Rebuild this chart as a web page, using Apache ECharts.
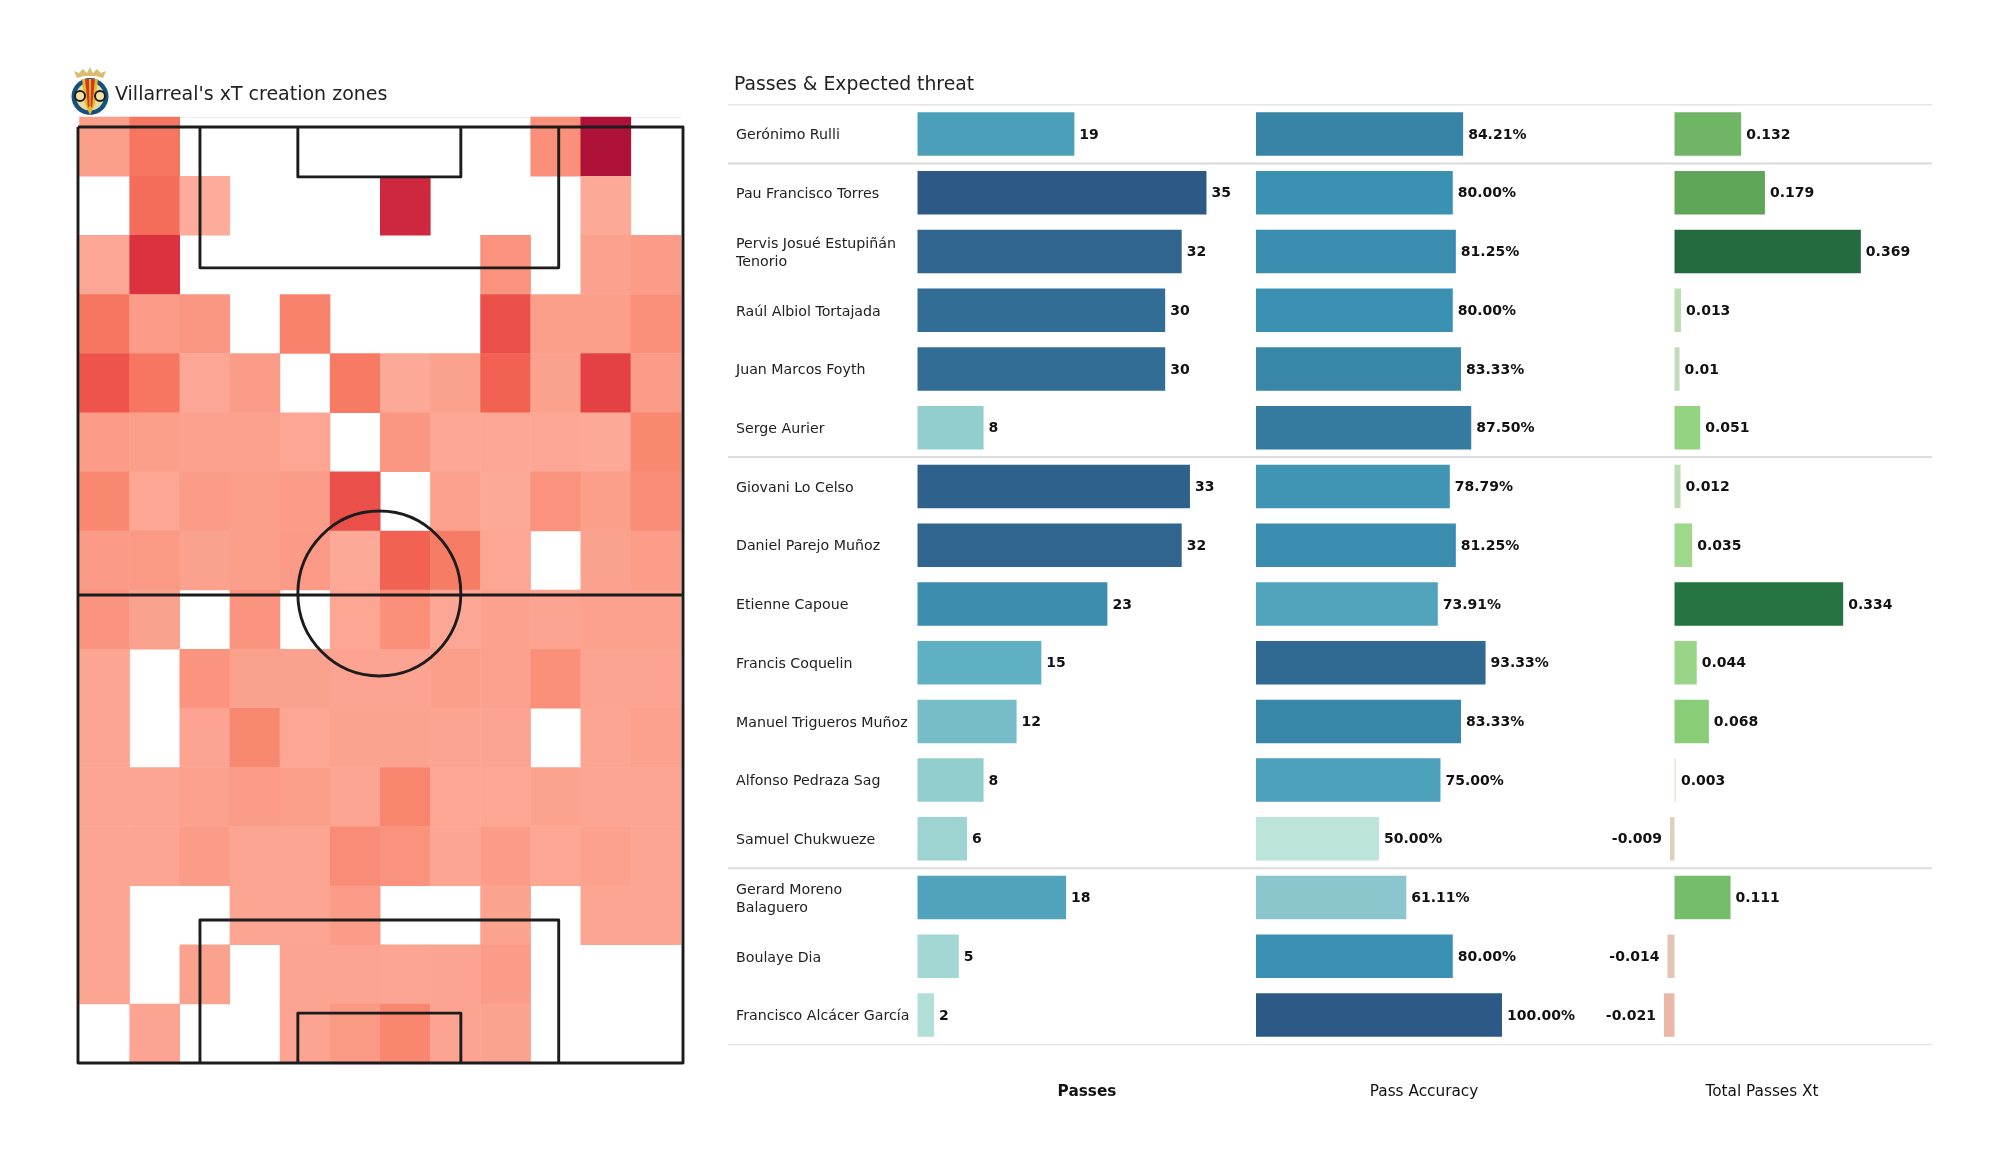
<!DOCTYPE html>
<html><head><meta charset="utf-8">
<style>html,body{margin:0;padding:0;background:#fff}#c{width:2000px;height:1175px}</style>
<script src="https://cdn.jsdelivr.net/npm/echarts@6/dist/echarts.min.js"></script>
</head><body><div id="c"></div>
<script>
const players = ["Gerónimo Rulli","Pau Francisco Torres","Pervis Josué Estupiñán\nTenorio","Raúl Albiol Tortajada","Juan Marcos Foyth","Serge Aurier","Giovani Lo Celso","Daniel Parejo Muñoz","Etienne Capoue","Francis Coquelin","Manuel Trigueros Muñoz","Alfonso Pedraza Sag","Samuel Chukwueze","Gerard Moreno\nBalaguero","Boulaye Dia","Francisco Alcácer García"];
const passes = [19,35,32,30,30,8,33,32,23,15,12,8,6,18,5,2];
const accuracy = [84.21,80,81.25,80,83.33,87.5,78.79,81.25,73.91,93.33,83.33,75,50,61.11,80,100];
const totalXt = [0.132,0.179,0.369,0.013,0.01,0.051,0.012,0.035,0.334,0.044,0.068,0.003,-0.009,0.111,-0.014,-0.021];
const groupBreaks = [0,1,6,13,16];
const _ = null;
const zoneRows = [
 [.20,.45,_,_,_,_,_,_,_,.30,1.0,_],
 [_,.50,.06,_,_,_,.86,_,_,_,.10,_],
 [.12,.80,_,_,_,_,_,_,.28,_,.18,.22],
 [.45,.22,.25,_,.38,_,_,_,.65,.20,.20,.30],
 [.62,.45,.12,.22,_,.43,.10,.17,.55,.17,.72,.22],
 [.22,.20,.18,.18,.13,_,.25,.12,.12,.12,.10,.35],
 [.35,.13,.22,.20,.22,.65,_,.18,.10,.28,.20,.32],
 [.23,.24,.17,.20,.23,.10,.55,.42,.13,_,.17,.21],
 [.27,.17,_,.27,_,.13,.30,.12,.18,.15,.18,.18],
 [.14,_,.27,.17,.17,.15,.15,.20,.18,.30,.15,.15],
 [.14,_,.15,.35,.13,.16,.16,.15,.15,_,.14,.18],
 [.14,.14,.18,.22,.20,.14,.37,.13,.13,.16,.14,.14],
 [.14,.14,.22,.14,.14,.32,.28,.14,.22,.13,.18,.14],
 [.14,_,_,.14,.14,.22,_,_,.16,_,.14,.14],
 [.14,_,.17,_,.15,.15,.14,.15,.22,_,_,_],
 [_,.15,_,_,.15,.24,.36,.15,.16,_,_,_]
];
const zoneColumns = ["1","2","3","4","5","6","7","8","9","10","11","12"];
const zoneRowNames = zoneRows.map((r,i)=>String(i+1));
const heatColors = ['#feb2a3','#fb9f8b','#f88068','#f0584c','#dc3240','#ae1238'];
const passColors = ['#b2e0d8','#8fcccd','#5fafc3','#3e93b2','#33739a','#2c5985'];
const accColors = ['#bde4da','#90c9ce','#5fb0c2','#3b91b1','#327399','#2c5985'];
const xtStops = [[-0.021,'#e9b8a6'],[-0.014,'#e3c5b3'],[-0.009,'#dfd0bd'],[0.003,'#e9e6d4'],[0.01,'#c4dabc'],[0.013,'#bcdcb3'],[0.035,'#9ed88b'],[0.068,'#8acd78'],[0.111,'#76bd6b'],[0.132,'#6fb565'],[0.179,'#60a658'],[0.334,'#267541'],[0.369,'#236b3f']];
const FONT = '"DejaVu Sans"';

function xtColor(v){
  for(let i=1;i<xtStops.length;i++){
    if(v<=xtStops[i][0]){
      const [a,ca]=xtStops[i-1],[b,cb]=xtStops[i];
      return echarts.color.lerp((v-a)/(b-a),[ca,cb]);
    }
  }
  return xtStops[xtStops.length-1][1];
}
const heatData=[];
zoneRows.forEach((r,y)=>r.forEach((v,x)=>{if(v!==null)heatData.push([x,y,v]);}));

// pitch in metres
const PW=68, PL=105, MID=33.87;
const boxX=[MID-20.16,MID+20.16], sixX=[MID-9.16,MID+9.16];
const pitchSegs=[
 [[0,0],[PW,0],[PW,PL],[0,PL],[0,0]],
 [[0,52.5],[PW,52.5]],
 [[boxX[0],0],[boxX[0],15.8],[boxX[1],15.8],[boxX[1],0]],
 [[sixX[0],0],[sixX[0],5.6],[sixX[1],5.6],[sixX[1],0]],
 [[boxX[0],PL],[boxX[0],PL-16.05],[boxX[1],PL-16.05],[boxX[1],PL]],
 [[sixX[0],PL],[sixX[0],PL-5.6],[sixX[1],PL-5.6],[sixX[1],PL]]
];
const chart=echarts.init(document.getElementById('c'),null,{renderer:'canvas'});
const ROW={top:104.7,height:939.7};
function barAxis(i,min,max,name,bold){
  return {gridIndex:i,type:'value',min,max,show:true,axisLine:{show:false},axisTick:{show:false},axisLabel:{show:false},splitLine:{show:false},
    name,nameLocation:'middle',nameGap:40,nameTextStyle:{fontFamily:FONT,fontSize:15.3,color:'#111',fontWeight:bold?'bold':'normal'}};
}
function catAxis(i,show){
  return {gridIndex:i,type:'category',data:players,inverse:true,axisLine:{show:false},axisTick:{show:false},splitLine:{show:false},
    axisLabel:show?{show:true,align:'left',margin:181.5,fontFamily:FONT,fontSize:14.2,color:'#222',lineHeight:17.5}:{show:false}};
}
function barLabel(fmt){
  return {show:true,position:'right',distance:5,offset:[0,1],fontFamily:FONT,fontSize:14,fontWeight:'bold',color:'#111',formatter:fmt};
}
const option={
 animation:false,backgroundColor:'#fff',
 title:[
  {text:"Villarreal's xT creation zones",left:110,top:81,textStyle:{fontFamily:FONT,fontSize:19,fontWeight:'normal',color:'#222'}},
  {text:"Passes & Expected threat",left:729,top:71,textStyle:{fontFamily:FONT,fontSize:18.8,fontWeight:'normal',color:'#222'}}
 ],
 grid:[
  {left:79.5,top:117,width:601.5,height:946},
  {left:78,top:127,width:605,height:936},
  {left:917.5,top:ROW.top,width:339,height:ROW.height},
  {left:1256,top:ROW.top,width:336,height:ROW.height},
  {left:1592,top:ROW.top,width:340,height:ROW.height},
  {left:728,top:ROW.top,width:1204,height:ROW.height},
  {left:917.5,top:ROW.top+1.6,width:339,height:ROW.height}
 ],
 xAxis:[
  {gridIndex:0,type:'category',data:zoneColumns,show:false},
  {gridIndex:1,type:'value',min:0,max:PW,show:false},
  barAxis(2,0,41.06,'Passes',true),
  barAxis(3,0,136.6,'Pass Accuracy',false),
  barAxis(4,-0.1634,0.5099,'Total Passes Xt',false),
  {gridIndex:5,type:'value',min:0,max:1,show:false},
  {gridIndex:6,type:'value',min:0,max:1,show:false}
 ],
 yAxis:[
  {gridIndex:0,type:'category',data:zoneRowNames,inverse:true,show:false},
  {gridIndex:1,type:'value',min:0,max:PL,inverse:true,show:false},
  catAxis(2,false),catAxis(3,false),catAxis(4,false),
  {gridIndex:5,type:'value',min:0,max:16,inverse:true,show:false},
  catAxis(6,true)
 ],
 visualMap:[
  {show:false,type:'continuous',seriesIndex:0,dimension:2,min:0,max:1,inRange:{color:heatColors}},
  {show:false,type:'continuous',seriesIndex:2,dimension:0,min:2,max:35,inRange:{color:passColors}},
  {show:false,type:'continuous',seriesIndex:3,dimension:0,min:50,max:100,inRange:{color:accColors}}
 ],
 series:[
  {type:'heatmap',xAxisIndex:0,yAxisIndex:0,data:heatData,silent:true,itemStyle:{borderWidth:0},emphasis:{disabled:true},z:1},
  {type:'custom',xAxisIndex:1,yAxisIndex:1,silent:true,z:5,data:[0],clip:false,
   renderItem:(p,api)=>{
     const kids=pitchSegs.map(s=>({type:'polyline',shape:{points:s.map(c=>api.coord(c))},style:{fill:null,stroke:'#1c1c1c',lineWidth:2.9,lineJoin:'round'}}));
     const c=api.coord([MID,PL/2]);
     const r=api.size([9.16,9.25]);
     kids.push({type:'ellipse',shape:{cx:c[0],cy:c[1]-1.5,rx:r[0],ry:r[1]},style:{fill:null,stroke:'#1c1c1c',lineWidth:2.9}});
     return {type:'group',children:kids};
   }},
  {type:'bar',xAxisIndex:2,yAxisIndex:2,data:passes,barWidth:43.5,label:barLabel('{c}'),silent:true,z:3},
  {type:'bar',xAxisIndex:3,yAxisIndex:3,data:accuracy,barWidth:43.5,label:barLabel(p=>p.value.toFixed(2)+'%'),silent:true,z:3},
  {type:'bar',xAxisIndex:4,yAxisIndex:4,barWidth:43.5,silent:true,z:3,label:barLabel('{c}'),
   data:totalXt.map(v=>({value:v,itemStyle:{color:xtColor(v)},label:{position:v<0?'left':'right',distance:v<0?8:5}}))},
  {type:'custom',xAxisIndex:5,yAxisIndex:5,silent:true,z:2,data:groupBreaks,
   renderItem:(p,api)=>{
     const b=api.value(0);
     const a=api.coord([0,b]),e=api.coord([1,b]);
     const edge=(b===0||b===16);
     return {type:'line',shape:{x1:a[0],y1:a[1],x2:e[0],y2:e[1]},style:{stroke:edge?'#e6e6e6':'#dcdcdc',lineWidth:edge?1.5:2}};
   },encode:{y:0}}
 ],
 graphic:[
  {type:'group',silent:true,children:[
   {type:'line',shape:{x1:180,y1:117.5,x2:681,y2:117.5},style:{stroke:'#ececec',lineWidth:1}},
   {type:'circle',shape:{cx:90,cy:96.5,r:18.5},style:{fill:'#14507f'}},
   {type:'circle',shape:{cx:90,cy:96.5,r:14},style:{fill:'#e9dca0'}},
   {type:'polygon',shape:{points:[[82,79],[98,79],[95,104],[90,115],[85,104]]},style:{fill:'#e8b92e'}},
   {type:'polygon',shape:{points:[[85,79],[89,79],[89.5,106],[88,108]]},style:{fill:'#cf3a24'}},
   {type:'polygon',shape:{points:[[91,79],[95,79],[92,108],[90.5,106]]},style:{fill:'#cf3a24'}},
   {type:'circle',shape:{cx:80,cy:96,r:5},style:{fill:'#f1e2a4',stroke:'#1e1e1e',lineWidth:2}},
   {type:'circle',shape:{cx:100,cy:96,r:5},style:{fill:'#f1e2a4',stroke:'#1e1e1e',lineWidth:2}},
   {type:'polygon',shape:{points:[[77,78],[74,71],[79,73],[83,69],[87,73],[90,67],[93,73],[97,69],[101,73],[106,71],[103,78],[96,76],[84,76]]},style:{fill:'#d9bd72'}}
  ]}
 ]
};
chart.setOption(option);
</script></body></html>
